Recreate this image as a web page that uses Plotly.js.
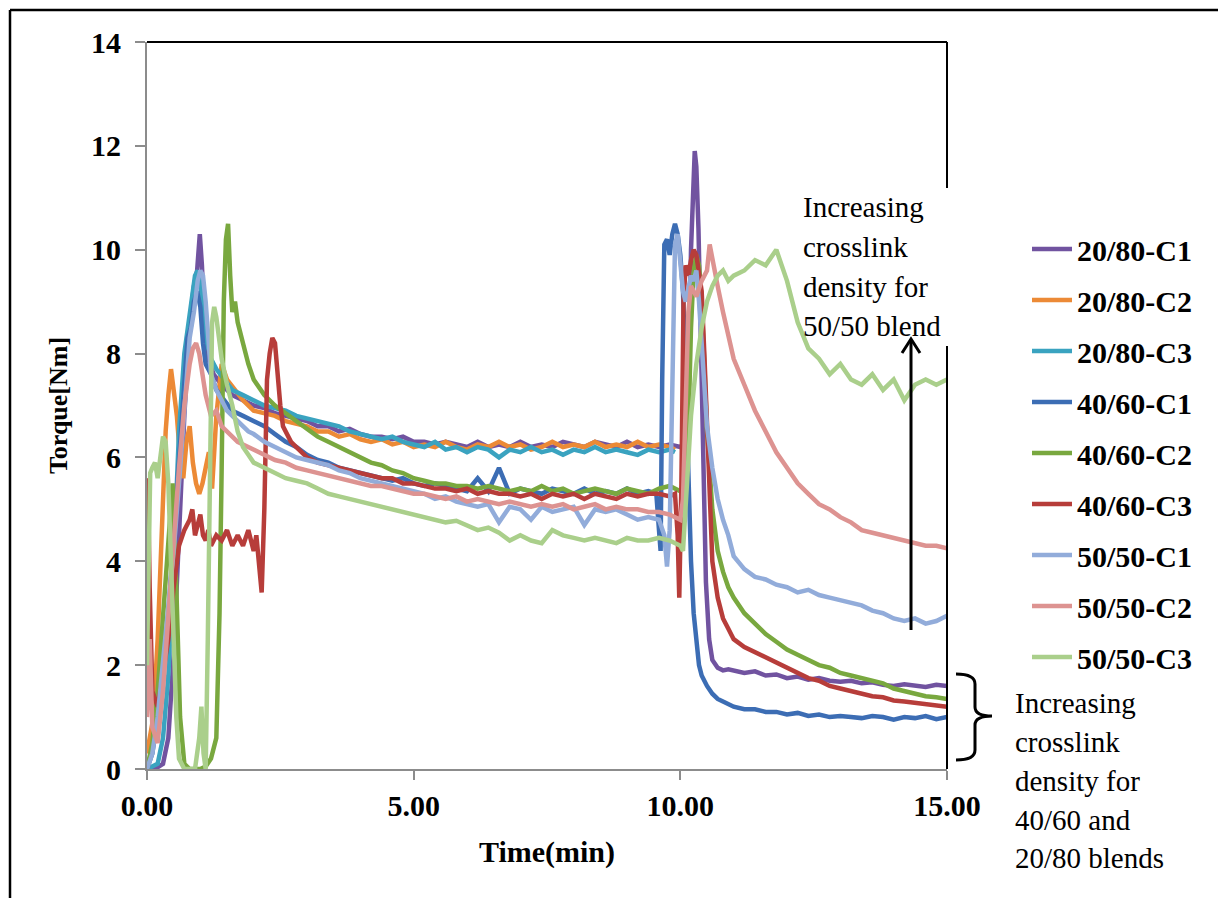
<!DOCTYPE html>
<html>
<head>
<meta charset="utf-8">
<script src="https://cdn.plot.ly/plotly-3.0.1.min.js"></script>
<style>
html,body{margin:0;padding:0;background:#fff;}
#chart{width:1218px;height:898px;}
</style>
</head>
<body>
<div id="chart"></div>
<script>
// Shared time grids (min)
const T_MID = [2.0,2.2,2.4,2.6,2.8,3.0,3.2,3.4,3.6,3.8,4.0,4.2,4.4,4.6,4.8,5.0,5.2,5.4,5.6,5.8,6.0,6.2,6.4,6.6,6.8,7.0,7.2,7.4,7.6,7.8,8.0,8.2,8.4,8.6,8.8,9.0,9.2,9.4];
const T_END = [11.0,11.2,11.4,11.6,11.8,12.0,12.2,12.4,12.6,12.8,13.0,13.2,13.4,13.6,13.8,14.0,14.2,14.4,14.6,14.8,15.0];
const T_MID_RED = [3.0,3.2,3.4,3.6,3.8,4.0,4.2,4.4,4.6,4.8,5.0,5.2,5.4,5.6,5.8,6.0,6.2,6.4,6.6,6.8,7.0,7.2,7.4,7.6,7.8,8.0,8.2,8.4,8.6,8.8,9.0,9.2,9.4];

const seriesNames = ['20/80-C1','20/80-C2','20/80-C3','40/60-C1','40/60-C2','40/60-C3','50/50-C1','50/50-C2','50/50-C3'];

// 20/80-C1
const c2080_1_tA = [0.0,0.15,0.3,0.4,0.5,0.6,0.7,0.8,0.88,0.94,0.99,1.03,1.08,1.15,1.25,1.4,1.6,1.8];
const c2080_1_yA = [0.0,0.0,0.1,0.6,2.2,4.5,6.8,8.6,9.3,9.6,10.3,9.7,8.5,7.9,7.6,7.4,7.2,7.1];
const c2080_1_yM = [7.0,6.95,6.85,6.8,6.75,6.7,6.6,6.6,6.5,6.55,6.45,6.4,6.4,6.35,6.4,6.3,6.3,6.25,6.3,6.25,6.2,6.3,6.2,6.25,6.2,6.3,6.2,6.25,6.2,6.3,6.25,6.2,6.3,6.25,6.2,6.3,6.2,6.25];
const c2080_1_tB = [9.6,9.8,10.0,10.1,10.16,10.2,10.24,10.27,10.3,10.34,10.38,10.43,10.48,10.54,10.6,10.7,10.8,10.9];
const c2080_1_yB = [6.2,6.25,6.2,6.3,7.5,10.0,11.5,11.9,11.6,10.4,8.5,5.8,3.6,2.5,2.1,1.95,1.9,1.92];
const c2080_1_yE = [1.9,1.85,1.88,1.8,1.82,1.75,1.78,1.72,1.75,1.7,1.68,1.7,1.65,1.67,1.62,1.6,1.63,1.6,1.58,1.62,1.6];

// 20/80-C2
const c2080_2_tA = [0.0,0.12,0.2,0.28,0.35,0.4,0.45,0.5,0.56,0.62,0.68,0.74,0.8,0.86,0.92,0.98,1.04,1.1,1.16,1.22,1.3,1.4,1.5,1.65,1.8];
const c2080_2_yA = [0.3,1.0,2.5,4.8,6.5,7.2,7.7,7.3,6.8,6.0,5.6,6.3,6.6,5.9,5.5,5.3,5.5,5.8,6.1,5.4,6.8,7.8,7.5,7.3,7.1];
const c2080_2_yM = [6.9,6.85,6.8,6.7,6.65,6.6,6.5,6.5,6.4,6.45,6.35,6.3,6.35,6.25,6.3,6.2,6.25,6.2,6.3,6.2,6.15,6.25,6.2,6.3,6.2,6.25,6.15,6.2,6.3,6.2,6.25,6.2,6.3,6.2,6.25,6.2,6.3,6.2];
const c2080_2_tB = [9.6,9.8,9.9];
const c2080_2_yB = [6.25,6.2,6.15];

// 20/80-C3
const c2080_3_tA = [0.0,0.2,0.3,0.4,0.5,0.6,0.7,0.78,0.84,0.9,0.95,1.0,1.05,1.1,1.2,1.3,1.45,1.6,1.8];
const c2080_3_yA = [0.0,0.1,0.6,1.8,4.0,6.5,8.0,8.6,9.2,9.5,9.6,9.4,8.8,8.3,7.9,7.7,7.5,7.3,7.2];
const c2080_3_yM = [7.1,7.0,6.95,6.9,6.8,6.75,6.7,6.65,6.6,6.5,6.45,6.4,6.35,6.4,6.3,6.25,6.2,6.3,6.15,6.2,6.1,6.2,6.15,6.0,6.15,6.1,6.2,6.1,6.15,6.05,6.15,6.1,6.2,6.1,6.15,6.1,6.05,6.15];
const c2080_3_tB = [9.6,9.8,9.9];
const c2080_3_yB = [6.1,6.15,6.1];

// 40/60-C1
const c4060_1_tA = [0.0,0.1,0.2,0.3,0.4,0.5,0.6,0.7,0.76,0.82,0.88,0.94,1.0,1.05,1.1,1.2,1.3,1.45,1.6,1.8];
const c4060_1_yA = [0.0,0.3,1.0,1.8,3.0,4.5,6.0,7.6,8.3,8.5,9.0,9.2,8.9,8.2,7.8,7.6,7.3,7.1,6.9,6.8];
const c4060_1_yM = [6.7,6.6,6.45,6.3,6.2,6.05,5.95,5.9,5.8,5.75,5.7,5.65,5.6,5.55,5.6,5.5,5.45,5.5,5.45,5.4,5.35,5.6,5.35,5.8,5.3,5.4,5.35,5.3,5.4,5.35,5.3,5.4,5.3,5.35,5.3,5.4,5.3,5.35];
const c4060_1_tB = [9.55,9.6,9.63,9.66,9.7,9.75,9.8,9.85,9.9,9.95,10.0,10.05,10.1,10.15,10.2,10.25,10.3,10.35,10.4,10.5,10.6,10.7,10.8,10.9];
const c4060_1_yB = [5.3,4.6,4.2,7.5,10.1,10.2,9.9,10.3,10.5,10.3,9.9,9.2,7.5,5.5,4.0,3.0,2.4,2.0,1.8,1.6,1.45,1.35,1.3,1.25];
const c4060_1_yE = [1.2,1.15,1.15,1.1,1.1,1.05,1.08,1.02,1.05,1.0,1.02,1.0,0.98,1.02,1.0,0.95,1.0,0.98,1.02,0.96,1.0];

// 40/60-C2
const c4060_2_tA = [0.0,0.1,0.2,0.3,0.4,0.48,0.55,0.62,0.7,0.8,0.9,1.0,1.1,1.2,1.3,1.36,1.4,1.44,1.48,1.52,1.56,1.6,1.65,1.7,1.8,1.9];
const c4060_2_yA = [0.0,0.5,1.5,3.0,4.6,5.5,3.5,1.0,0.1,0.0,0.0,0.0,0.05,0.2,0.6,3.0,5.8,9.0,10.2,10.5,9.5,8.8,9.0,8.6,8.2,7.8];
const c4060_2_yM = [7.5,7.2,7.0,6.85,6.7,6.55,6.4,6.3,6.2,6.1,6.0,5.9,5.85,5.75,5.7,5.6,5.55,5.5,5.5,5.45,5.45,5.4,5.45,5.4,5.35,5.4,5.35,5.45,5.35,5.4,5.3,5.35,5.4,5.35,5.3,5.4,5.35,5.3];
const c4060_2_tB = [9.6,9.8,10.0,10.1,10.15,10.2,10.25,10.3,10.35,10.4,10.45,10.5,10.6,10.7,10.8,10.9];
const c4060_2_yB = [5.4,5.45,5.35,5.3,6.5,8.5,9.6,9.9,9.7,9.0,7.8,6.5,5.0,4.2,3.8,3.5];
const c4060_2_yE = [3.3,3.0,2.8,2.6,2.45,2.3,2.2,2.1,2.0,1.95,1.85,1.8,1.75,1.7,1.65,1.55,1.5,1.45,1.4,1.38,1.35];

// 40/60-C3
const c4060_3_tA = [0.0,0.02,0.05,0.1,0.2,0.3,0.4,0.5,0.6,0.7,0.8,0.85,0.9,0.95,1.0,1.05,1.1,1.15,1.2,1.3,1.4,1.5,1.6,1.7,1.8,1.9,2.0,2.05,2.1,2.15,2.2,2.25,2.3,2.35,2.4,2.45,2.5,2.55,2.6,2.7,2.8,2.9];
const c4060_3_yA = [5.6,5.4,3.5,1.5,1.2,1.8,2.5,3.5,4.3,4.6,4.8,5.0,4.5,4.7,4.9,4.5,4.4,4.6,4.3,4.5,4.4,4.6,4.3,4.5,4.3,4.6,4.2,4.5,3.9,3.4,5.0,7.5,8.0,8.3,8.2,7.5,7.0,6.6,6.5,6.3,6.2,6.1];
const c4060_3_yM = [6.0,5.9,5.85,5.8,5.75,5.7,5.65,5.6,5.6,5.5,5.5,5.45,5.4,5.4,5.35,5.4,5.3,5.35,5.3,5.3,5.25,5.3,5.2,5.3,5.25,5.3,5.2,5.3,5.25,5.2,5.3,5.25,5.3];
const c4060_3_tB = [9.6,9.8,9.9,9.95,9.98,10.02,10.06,10.1,10.15,10.2,10.25,10.3,10.35,10.4,10.45,10.5,10.55,10.6,10.7,10.8,10.9];
const c4060_3_yB = [5.3,5.25,5.3,4.5,3.3,5.5,9.0,9.7,9.5,9.8,10.0,9.9,9.6,9.2,8.0,6.5,5.0,4.0,3.3,2.9,2.7];
const c4060_3_yE = [2.5,2.35,2.25,2.15,2.05,1.95,1.85,1.75,1.7,1.6,1.55,1.5,1.45,1.4,1.38,1.32,1.3,1.28,1.25,1.22,1.2];

// 50/50-C1
const c5050_1_tA = [0.0,0.1,0.2,0.3,0.4,0.5,0.6,0.7,0.8,0.88,0.95,1.0,1.05,1.1,1.15,1.2,1.3,1.4,1.5,1.6,1.7,1.8,1.9];
const c5050_1_yA = [0.0,0.3,1.0,2.0,3.0,4.2,5.5,7.0,8.3,8.8,9.4,9.6,9.5,9.0,8.2,7.6,7.3,7.1,6.9,6.8,6.7,6.6,6.5];
const c5050_1_yM = [6.45,6.3,6.2,6.1,6.0,5.95,5.9,5.85,5.75,5.7,5.6,5.55,5.5,5.45,5.4,5.35,5.3,5.2,5.25,5.15,5.1,5.05,5.1,4.75,5.05,5.0,4.8,5.05,4.95,5.0,5.05,4.7,5.0,4.95,5.0,4.9,4.8,4.85];
const c5050_1_tB = [9.6,9.7,9.75,9.8,9.85,9.9,9.95,10.0,10.05,10.1,10.15,10.2,10.25,10.3,10.35,10.4,10.45,10.5,10.55,10.6,10.7,10.8,10.9];
const c5050_1_yB = [4.8,4.5,3.9,4.6,7.5,10.1,10.3,9.8,9.2,9.0,9.3,9.5,9.4,9.6,9.0,8.2,7.3,6.6,6.2,5.8,5.2,4.8,4.5];
const c5050_1_yE = [4.1,3.85,3.7,3.65,3.55,3.5,3.4,3.45,3.35,3.3,3.25,3.2,3.15,3.05,3.0,2.9,2.85,2.9,2.8,2.85,2.95];

// 50/50-C2
const c5050_2_tA = [0.0,0.05,0.1,0.2,0.3,0.4,0.5,0.6,0.7,0.8,0.86,0.92,0.98,1.05,1.1,1.2,1.3,1.4,1.5,1.6,1.7,1.8,1.9];
const c5050_2_yA = [1.0,2.5,0.8,0.5,1.5,3.0,4.5,5.8,7.0,7.8,8.1,8.2,8.0,7.6,7.2,6.8,6.9,6.6,6.5,6.4,6.3,6.25,6.2];
const c5050_2_yM = [6.15,6.05,5.95,5.9,5.8,5.75,5.7,5.65,5.6,5.55,5.5,5.45,5.45,5.4,5.35,5.3,5.3,5.25,5.2,5.25,5.15,5.2,5.15,5.1,5.15,5.1,5.05,5.1,5.05,5.1,5.0,5.05,5.1,5.0,5.05,5.0,5.0,4.95];
const c5050_2_tB = [9.6,9.8,9.9,10.0,10.05,10.1,10.15,10.2,10.3,10.4,10.5,10.55,10.6,10.7,10.8,10.9];
const c5050_2_yB = [4.95,4.9,4.85,4.8,5.2,7.0,8.8,9.3,9.1,9.4,9.6,10.1,9.8,9.3,8.8,8.3];
const c5050_2_yE = [7.9,7.4,6.9,6.5,6.1,5.8,5.5,5.3,5.1,5.0,4.85,4.75,4.6,4.55,4.5,4.45,4.4,4.35,4.3,4.3,4.25];

// 50/50-C3
const c5050_3_tA = [0.0,0.03,0.06,0.1,0.15,0.2,0.25,0.3,0.35,0.4,0.45,0.5,0.55,0.6,0.7,0.8,0.9,0.98,1.02,1.06,1.1,1.14,1.18,1.22,1.26,1.3,1.35,1.4,1.5,1.6,1.7,1.8,1.9];
const c5050_3_yA = [2.0,4.5,5.7,5.8,5.9,5.6,6.0,6.4,6.3,5.5,4.0,2.5,1.0,0.2,0.0,0.0,0.0,0.6,1.2,0.3,0.0,2.5,6.5,8.6,8.9,8.7,8.3,7.9,7.4,7.0,6.5,6.2,6.05];
const c5050_3_yM = [5.9,5.8,5.7,5.6,5.55,5.5,5.4,5.3,5.25,5.2,5.15,5.1,5.05,5.0,4.95,4.9,4.85,4.8,4.75,4.78,4.7,4.6,4.65,4.55,4.4,4.5,4.4,4.35,4.6,4.5,4.45,4.4,4.45,4.4,4.35,4.45,4.4,4.4];
const c5050_3_tB = [9.6,9.8,10.0,10.05,10.1,10.15,10.2,10.3,10.4,10.5,10.6,10.7,10.8,10.9];
const c5050_3_yB = [4.45,4.4,4.3,4.2,5.0,6.0,6.8,7.8,8.5,9.0,9.3,9.5,9.6,9.4];
const c5050_3_yE = [9.5,9.6,9.8,9.7,10.0,9.4,8.6,8.1,7.9,7.6,7.8,7.5,7.4,7.6,7.3,7.5,7.1,7.4,7.5,7.4,7.5];

const xs = [
  c2080_1_tA.concat(T_MID, c2080_1_tB, T_END),
  c2080_2_tA.concat(T_MID, c2080_2_tB),
  c2080_3_tA.concat(T_MID, c2080_3_tB),
  c4060_1_tA.concat(T_MID, c4060_1_tB, T_END),
  c4060_2_tA.concat(T_MID, c4060_2_tB, T_END),
  c4060_3_tA.concat(T_MID_RED, c4060_3_tB, T_END),
  c5050_1_tA.concat(T_MID, c5050_1_tB, T_END),
  c5050_2_tA.concat(T_MID, c5050_2_tB, T_END),
  c5050_3_tA.concat(T_MID, c5050_3_tB, T_END)
];
const ys = [
  c2080_1_yA.concat(c2080_1_yM, c2080_1_yB, c2080_1_yE),
  c2080_2_yA.concat(c2080_2_yM, c2080_2_yB),
  c2080_3_yA.concat(c2080_3_yM, c2080_3_yB),
  c4060_1_yA.concat(c4060_1_yM, c4060_1_yB, c4060_1_yE),
  c4060_2_yA.concat(c4060_2_yM, c4060_2_yB, c4060_2_yE),
  c4060_3_yA.concat(c4060_3_yM, c4060_3_yB, c4060_3_yE),
  c5050_1_yA.concat(c5050_1_yM, c5050_1_yB, c5050_1_yE),
  c5050_2_yA.concat(c5050_2_yM, c5050_2_yB, c5050_2_yE),
  c5050_3_yA.concat(c5050_3_yM, c5050_3_yB, c5050_3_yE)
];
const colors = ['#7153A0','#EC8A36','#3AA3C0','#3C6DB4','#79A83F','#B73D3A','#92ACDA','#DD9391','#AACF8B'];

const FONT = 'Liberation Serif, Times New Roman, serif';

const traces = seriesNames.map((n,i) => ({
  type:'scatter', mode:'lines', name:n, x:xs[i], y:ys[i],
  line:{color:colors[i], width:4.5}, legendgroup:'g'+i
}));

// paper coordinate helpers (plot area: x 147..947, y 42..769)
const px = v => (v-147)/800;
const py = v => (769-v)/727;

const textFont = {family:FONT, size:29, color:'#000'};
const ann = [];
const note1 = ['Increasing','crosslink','density for','50/50 blend'];
const note1Y = [207,247,287,326];
note1.forEach((s,i)=>ann.push({xref:'paper',yref:'paper',x:px(801),y:py(note1Y[i]),xanchor:'left',yanchor:'middle',text:s,showarrow:false,font:textFont}));
const note2 = ['Increasing','crosslink','density for','40/60 and','20/80 blends'];
const note2Y = [703,742,781,820,858];
note2.forEach((s,i)=>ann.push({xref:'paper',yref:'paper',x:px(1013),y:py(note2Y[i]),xanchor:'left',yanchor:'middle',text:s,showarrow:false,font:textFont}));

const shapes = [
  // outer frame (top and left)
  {type:'line',xref:'paper',yref:'paper',x0:px(10),x1:px(1218),y0:py(10),y1:py(10),line:{color:'#000',width:2.5}},
  {type:'line',xref:'paper',yref:'paper',x0:px(10),x1:px(10),y0:py(10),y1:py(898),line:{color:'#000',width:2.5}},
  // top and right plot border
  {type:'line',xref:'paper',yref:'paper',x0:0,x1:1,y0:1,y1:1,line:{color:'#000',width:2}},
  {type:'line',xref:'paper',yref:'paper',x0:1,x1:1,y0:py(188),y1:1,line:{color:'#000',width:2}},
  {type:'line',xref:'paper',yref:'paper',x0:1,x1:1,y0:0,y1:py(346),line:{color:'#000',width:2}},
  // arrow
  {type:'line',xref:'paper',yref:'paper',x0:px(911),x1:px(911),y0:py(630),y1:py(340),line:{color:'#000',width:3}},
  {type:'path',xref:'paper',yref:'paper',path:`M ${px(902)} ${py(353)} L ${px(911)} ${py(339)} L ${px(920)} ${py(353)}`,line:{color:'#000',width:3}},
  // brace
  {type:'path',xref:'paper',yref:'paper',
   path:`M ${px(956)} ${py(674)} Q ${px(975)} ${py(674)} ${px(975)} ${py(684)} L ${px(975)} ${py(707)} Q ${px(975)} ${py(716)} ${px(992)} ${py(716)} Q ${px(975)} ${py(716)} ${px(975)} ${py(725)} L ${px(975)} ${py(750)} Q ${px(975)} ${py(760)} ${px(956)} ${py(760)}`,
   line:{color:'#000',width:3}}
];

const layout = {
  width:1218, height:898,
  margin:{l:147, r:271, t:42, b:129, pad:0},
  paper_bgcolor:'#fff', plot_bgcolor:'#fff',
  showlegend:true,
  legend:{x:px(1027), y:py(223), xanchor:'left', yanchor:'top', font:{family:FONT, size:30, color:'#000', weight:'bold'},
          tracegroupgap:9, itemwidth:40, bgcolor:'rgba(0,0,0,0)', borderwidth:0},
  xaxis:{range:[0,15], tickvals:[0,5,10,15], ticktext:['0.00','5.00','10.00','15.00'],
         showgrid:false, zeroline:false, showline:true, linecolor:'#8c8c8c', linewidth:2,
         ticks:'outside', ticklen:9, tickwidth:2, tickcolor:'#8c8c8c',
         tickfont:{family:FONT, size:30, color:'#000', weight:'bold'},
         title:{text:'Time(min)', font:{family:FONT, size:30, color:'#000', weight:'bold'}, standoff:20}},
  yaxis:{range:[0,14], dtick:2, showgrid:false, zeroline:false, showline:true, linecolor:'#8c8c8c', linewidth:2,
         ticks:'outside', ticklen:10, tickwidth:2, tickcolor:'#8c8c8c', ticklabelstandoff:8,
         tickfont:{family:FONT, size:30, color:'#000', weight:'bold'},
         title:{text:'Torque[Nm]', font:{family:FONT, size:26, color:'#000', weight:'bold'}, standoff:16}},
  annotations:ann,
  shapes:shapes
};

Plotly.newPlot('chart', traces, layout, {displayModeBar:false, staticPlot:true});
</script>
</body>
</html>
